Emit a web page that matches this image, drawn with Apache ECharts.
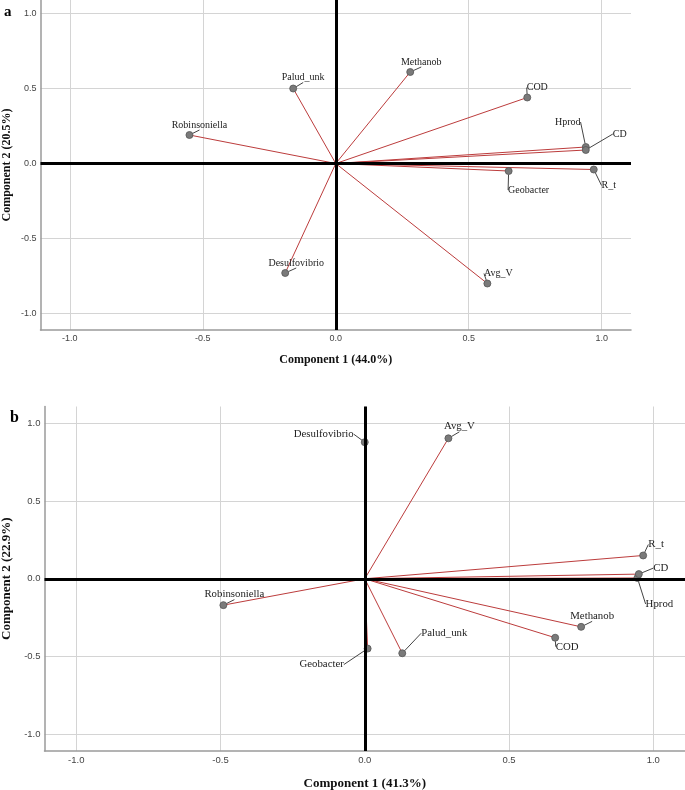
<!DOCTYPE html>
<html><head><meta charset="utf-8">
<script src="https://cdn.jsdelivr.net/npm/echarts@6/dist/echarts.min.js"></script>
<style>html,body{margin:0;padding:0;background:#fff}#c{width:685px;height:790px}</style>
</head><body><div id="c"></div>
<script>
// ---- data ----
const names = ['Robinsoniella','Palud_unk','Methanob','COD','Hprod','CD','R_t','Geobacter','Desulfovibrio','Avg_V'];
// panel a loadings
const aComp1 = [-0.55, -0.16, 0.28, 0.72, 0.94, 0.94, 0.97, 0.65, -0.19, 0.57];
const aComp2 = [0.19, 0.50, 0.61, 0.44, 0.11, 0.09, -0.04, -0.05, -0.73, -0.80];
// panel b loadings
const bComp1 = [-0.49, 0.13, 0.75, 0.66, 0.945, 0.95, 0.965, 0.01, 0.00, 0.29];
const bComp2 = [-0.17, -0.48, -0.31, -0.38, 0.005, 0.03, 0.15, -0.45, 0.88, 0.905];
const tickValues = [-1.0, -0.5, 0.0, 0.5, 1.0];
const titlesA = ['Component 1 (44.0%)', 'Component 2 (20.5%)'];
const titlesB = ['Component 1 (41.3%)', 'Component 2 (22.9%)'];
const panelLetters = ['a', 'b'];

// label placement (px offsets of label centre from point), layout only
const labelOffsetA = {Robinsoniella:[10,-10], Palud_unk:[10,-11], Methanob:[11,-10], COD:[10,-10],
  Hprod:[-18,-25], CD:[34,-16], R_t:[15,16], Geobacter:[20,19], Desulfovibrio:[11,-10], Avg_V:[11,-10]};
const labelOffsetB = {Robinsoniella:[11,-11], Palud_unk:[42,-20], Methanob:[11,-11], COD:[12,9],
  Hprod:[22,26], CD:[22,-6], R_t:[13,-11], Geobacter:[-46,16], Desulfovibrio:[-41,-8], Avg_V:[11,-12]};

const SERIF = 'Liberation Serif';
const SANS = 'Liberation Sans';

function makeAxis(gi, min, max, name, gap, fs, tfs) {
  return {
    type: 'value', gridIndex: gi, min: min, max: max,
    name: name, nameLocation: 'middle', nameGap: gap, nameMoveOverlap: false,
    nameTextStyle: {fontFamily: SERIF, fontWeight: 'bold', fontSize: tfs, color: '#111'},
    axisLine: {show: true, onZero: false, lineStyle: {color: '#9a9a9a', width: 1.5}},
    axisTick: {show: false, customValues: tickValues},
    axisLabel: {customValues: tickValues, formatter: v => v.toFixed(1), fontFamily: SANS, fontSize: fs, color: '#444', margin: 4},
    splitLine: {show: true, lineStyle: {color: '#d4d4d4', width: 1}}
  };
}

function panelSeries(gi, c1, c2, offsets, lfs) {
  const pts = names.map((n, i) => ({name: n, value: [c1[i], c2[i]]}));
  return [
    { type: 'line', xAxisIndex: gi, yAxisIndex: gi, data: [], z: 1, silent: true,
      markLine: { symbol: 'none', silent: true, label: {show: false},
        lineStyle: {color: '#000', width: 3, type: 'solid'},
        emphasis: {disabled: true},
        data: [{xAxis: 0}, {yAxis: 0}] } },
    { type: 'lines', coordinateSystem: 'cartesian2d', xAxisIndex: gi, yAxisIndex: gi, z: 2, silent: true,
      lineStyle: {color: '#bc3c3c', width: 1, opacity: 1},
      data: names.map((n, i) => ({coords: [[0, 0], [c1[i], c2[i]]]})) },
    { type: 'scatter', xAxisIndex: gi, yAxisIndex: gi, z: 3, silent: true,
      symbolSize: 7,
      itemStyle: {color: '#7a7a7a', borderColor: '#555', borderWidth: 0.8, opacity: 1},
      label: {show: true, position: 'inside', formatter: '{b}', fontFamily: SERIF, fontSize: lfs, color: '#222'},
      labelLine: {show: true, lineStyle: {color: '#444', width: 1}},
      labelLayout: function (p) { const o = offsets[names[p.dataIndex]]; return {dx: o[0], dy: o[1]}; },
      data: pts }
  ];
}

const chart = echarts.init(document.getElementById('c'), null, {renderer: 'canvas'});
chart.setOption({
  animation: false,
  backgroundColor: '#fff',
  grid: [
    {left: 40.5, top: 0, width: 590.5, height: 330, containLabel: false, outerBoundsMode: 'none'},
    {left: 44.5, top: 406.5, width: 640.5, height: 344.5, containLabel: false, outerBoundsMode: 'none'}
  ],
  xAxis: [
    makeAxis(0, -1.11, 1.11, titlesA[0], 24, 9, 12),
    makeAxis(1, -1.11, 1.11, titlesB[0], 26, 9.5, 13)
  ],
  yAxis: [
    makeAxis(0, -1.11, 1.09, titlesA[1], 28, 9, 12),
    makeAxis(1, -1.11, 1.11, titlesB[1], 31, 9.5, 13)
  ],
  graphic: [
    {type: 'text', left: 4, top: 5, style: {text: panelLetters[0], font: 'bold 15px "Liberation Serif"', fill: '#000'}},
    {type: 'text', left: 10, top: 410, style: {text: panelLetters[1], font: 'bold 16px "Liberation Serif"', fill: '#000'}}
  ],
  series: [].concat(
    panelSeries(0, aComp1, aComp2, labelOffsetA, 10),
    panelSeries(1, bComp1, bComp2, labelOffsetB, 10.8)
  )
});
</script>
</body></html>
